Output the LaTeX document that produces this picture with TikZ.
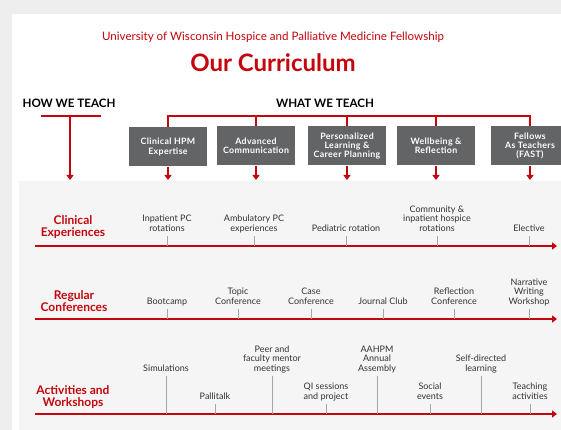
\documentclass[tikz,border=0pt]{standalone}
\usepackage{fontspec}
\setmainfont{Lato}
\usetikzlibrary{positioning,arrows.meta}

\definecolor{uwred}{HTML}{C5050C}
\definecolor{boxgray}{HTML}{636466}
\definecolor{panelgray}{HTML}{F5F5F5}
\definecolor{outergray}{HTML}{EEEEEE}
\definecolor{itemtext}{HTML}{333333}

\tikzset{
  box/.style={fill=boxgray, text=white,
    font=\bfseries\fontsize{8.8}{9.4}\selectfont\addfontfeatures{LetterSpace=4},
    align=center, minimum width=78pt, minimum height=39pt, inner sep=1pt},
  item/.style={font=\fontsize{9}{9.3}\selectfont, text=itemtext, align=center,
    text depth=2.2pt, inner xsep=1pt, inner ysep=2.5pt, anchor=south},
  rowlabel/.style={font=\bfseries\fontsize{12}{12}\selectfont, text=uwred, align=center},
  header/.style={font=\bfseries\fontsize{11.6}{12}\selectfont, text=black},
  redline/.style={uwred, line width=1.5pt, line join=miter},
  redarrow/.style={redline, -{Triangle[width=7pt,length=5pt]}},
  tickline/.style={black!35, line width=0.7pt},
}

\begin{document}
\begin{tikzpicture}[x=1pt,y=-1pt]
  \useasboundingbox (0,0) rectangle (561,430);
  % card and panel
  \fill[outergray] (0,0) rectangle (561,430);
  \fill[white] (12,14) rectangle (561,430);
  \fill[panelgray] (19,181) rectangle (561,430);

  % titles
  \node[text=uwred, font=\fontsize{11.6}{12}\selectfont] (subtitle) at (273,37)
    {University of Wisconsin Hospice and Palliative Medicine Fellowship};
  \node[text=uwred, font=\bfseries\fontsize{24}{26}\selectfont] (title) at (273,63) {Our Curriculum};

  \node[header] (how) at (69,103) {HOW WE TEACH};
  \node[header] (what) at (325,103) {WHAT WE TEACH};

  % how we teach bracket
  \coordinate (howl) at (41,116);
  \coordinate (howr) at (101,116);
  \coordinate (howm) at (70,116);
  \coordinate (howend) at (70,180);
  \draw[redline] (howl) -- (howr);
  \draw[redarrow] (howm) -- (howend);

  % what we teach boxes
  \node[box] (hpm) at (168,147) {Clinical HPM\\Expertise};
  \node[box] (comm) at (256,146) {Advanced\\Communication};
  \node[box] (plan) at (347,146) {Personalized\\Learning \&\\Career Planning};
  \node[box] (well) at (436,146) {Wellbeing \&\\Reflection};
  \node[box] (fast) at (530,146) {Fellows\\As Teachers\\(FAST)};

  \coordinate (whatbar) at (0,116);
  \draw[redline] (hpm.north) -- (hpm.north |- whatbar) -- (fast.north |- whatbar) -- (fast.north);
  \foreach \b in {comm,plan,well}
    \draw[redline] (\b.north |- whatbar) -- (\b.north);
  \foreach \b in {hpm,comm,plan,well,fast}
    \draw[redarrow] (\b.south) -- (\b.south |- howend);

  % row labels
  \node[rowlabel] (clinical) at (73,227) {Clinical\\Experiences};
  \node[rowlabel] (regular) at (74,301) {Regular\\Conferences};
  \node[rowlabel] (activities) at (73,397) {Activities and\\Workshops};

  % timelines
  \coordinate (clinA) at (35,246);  \coordinate (clinB) at (557,246);
  \coordinate (confA) at (35,319);  \coordinate (confB) at (557,319);
  \coordinate (actA) at (35,414);   \coordinate (actB) at (557,414);
  \draw[redarrow] (clinA) -- (clinB);
  \draw[redarrow] (confA) -- (confB);
  \draw[redarrow] (actA) -- (actB);

  % clinical experiences
  \foreach \x/\y/\t [count=\i] in {167/236/{Inpatient PC\\rotations},
      254/236/{Ambulatory PC\\experiences}, 346/236/{Pediatric rotation},
      437/236/{Community \&\\inpatient hospice\\rotations}, 529/236/{Elective}} {
    \node[item] (clin\i) at (\x,\y) {\t};
    \draw[tickline] (clin\i.south) -- (clin\i.south |- clinA);
  }

  % regular conferences
  \foreach \x/\y/\t [count=\i] in {167/309/{Bootcamp}, 238/309/{Topic\\Conference},
      311/309/{Case\\Conference}, 383/309/{Journal Club},
      454/309/{Reflection\\Conference}, 529/309/{Narrative\\Writing\\Workshop}} {
    \node[item] (conf\i) at (\x,\y) {\t};
    \draw[tickline] (conf\i.south) -- (conf\i.south |- confA);
  }

  % activities and workshops
  \foreach \x/\y/\t [count=\i] in {166/376/{Simulations}, 215/404/{Pallitalk},
      272/376/{Peer and\\faculty mentor\\meetings}, 326/404/{QI sessions\\and project},
      377/376/{AAHPM\\Annual\\Assembly}, 430/404/{Social\\events},
      481/376/{Self-directed\\learning}, 530/404/{Teaching\\activities}} {
    \node[item] (act\i) at (\x,\y) {\t};
    \draw[tickline] (act\i.south) -- (act\i.south |- actA);
  }
\end{tikzpicture}
\end{document}
